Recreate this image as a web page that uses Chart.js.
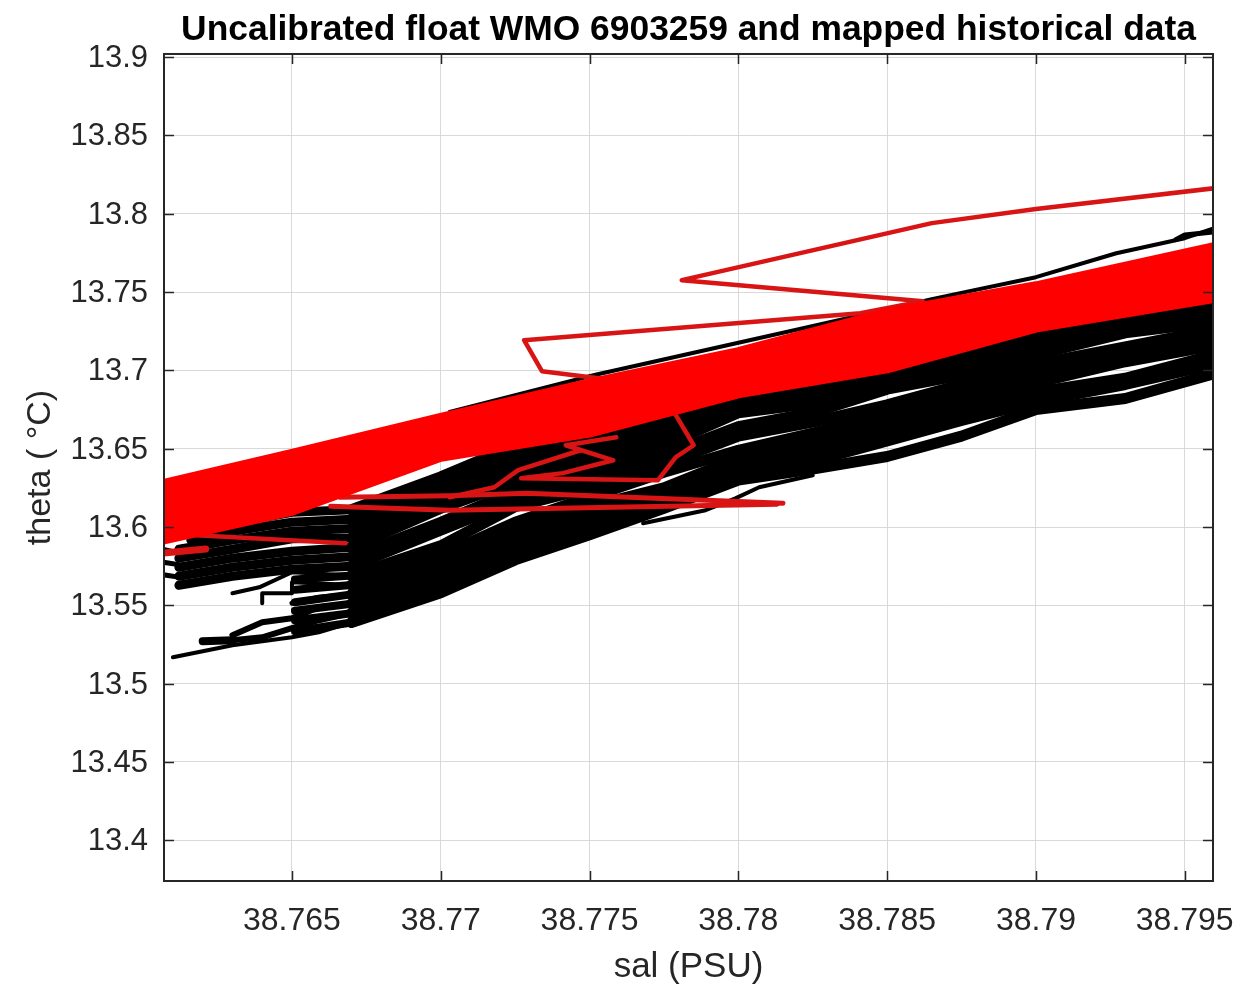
<!DOCTYPE html>
<html><head><meta charset="utf-8">
<script src="https://cdn.jsdelivr.net/npm/chart.js@4"></script>
<style>html,body{margin:0;padding:0;background:#fff}canvas{display:block}</style>
</head><body><canvas id="c" width="1239" height="985"></canvas>
<script>
const xTicks=[38.765,38.77,38.775,38.78,38.785,38.79,38.795];
const xTickLabels=['38.765','38.77','38.775','38.78','38.785','38.79','38.795'];
const yTicks=[13.4,13.45,13.5,13.55,13.6,13.65,13.7,13.75,13.8,13.85,13.9];
const yTickLabels=['13.4','13.45','13.5','13.55','13.6','13.65','13.7','13.75','13.8','13.85','13.9'];

// red: float profiles forming the dense band
const salRed=[38.7605,38.765,38.77,38.775,38.78,38.785,38.79,38.796];
const red1=[13.627,13.647,13.670,13.692,13.712,13.737,13.754,13.779];
const red2=[13.622,13.642,13.666,13.688,13.709,13.732,13.751,13.775];
const red3=[13.618,13.638,13.662,13.684,13.705,13.728,13.747,13.771];
const red4=[13.613,13.633,13.658,13.680,13.702,13.723,13.744,13.767];
const red5=[13.609,13.629,13.654,13.676,13.698,13.719,13.741,13.763];
const red6=[13.604,13.624,13.651,13.672,13.695,13.714,13.737,13.758];
const red7=[13.600,13.619,13.648,13.668,13.692,13.710,13.734,13.754];
const red8=[13.595,13.615,13.646,13.664,13.688,13.705,13.730,13.750];
const red9=[13.591,13.610,13.6445,13.660,13.685,13.701,13.727,13.746];

// red: outlying profiles
const oaSal=[38.796,38.79,38.7865,38.7781,38.7862,38.7841,38.7728,38.7734,38.7753,38.7767];
const oaTheta=[13.8163,13.803,13.794,13.7576,13.7442,13.7365,13.7193,13.6995,13.695,13.6905];
const obSal=[38.7778,38.7785,38.7779,38.7773,38.7727,38.7741,38.7758,38.7742,38.7759];
const obTheta=[13.6746,13.6522,13.6446,13.6299,13.6312,13.6344,13.6426,13.6522,13.6573];
const ocSal=[38.7747,38.7726,38.7718,38.7703];
const ocTheta=[13.649,13.6363,13.6254,13.619];
const odSal=[38.7815,38.7729,38.7703,38.7666];
const odTheta=[13.6152,13.6216,13.620,13.619];
const oeSal=[38.7813,38.7703,38.7663];
const oeTheta=[13.6146,13.6107,13.6133];
const ofSal=[38.7668,38.7618,38.7605];
const ofTheta=[13.5896,13.5947,13.596];
const ogSal=[38.7605,38.7621];
const ogTheta=[13.583,13.586];

// black: historical data, main body
const salMain=[38.767,38.77,38.7725,38.775,38.7775,38.78,38.7825,38.785,38.7875,38.79,38.793,38.796];
const blk1=[13.539,13.558,13.579,13.595,13.612,13.630,13.637,13.645,13.658,13.675,13.682,13.698];
const blk2=[13.545,13.564,13.585,13.601,13.616,13.634,13.642,13.655,13.668,13.680,13.691,13.704];
const blk3=[13.551,13.570,13.591,13.607,13.621,13.639,13.648,13.660,13.673,13.686,13.695,13.710];
const blk4=[13.557,13.576,13.597,13.613,13.625,13.644,13.654,13.666,13.679,13.692,13.7055,13.716];
const blk5=[13.563,13.582,13.603,13.619,13.635,13.649,13.660,13.672,13.685,13.698,13.710,13.721];
const blk6=[13.569,13.588,13.613,13.625,13.640,13.658,13.667,13.678,13.691,13.704,13.715,13.726];
const blk7=[13.575,13.598,13.617,13.631,13.646,13.664,13.673,13.688,13.697,13.710,13.724,13.731];
const blk8=[13.581,13.603,13.623,13.637,13.652,13.673,13.679,13.693,13.703,13.716,13.729,13.737];
const blk9=[13.587,13.612,13.629,13.643,13.658,13.678,13.685,13.699,13.709,13.722,13.734,13.743];
const blk10=[13.593,13.617,13.635,13.649,13.664,13.683,13.691,13.705,13.719,13.728,13.739,13.749];
const blk11=[13.599,13.622,13.641,13.655,13.670,13.688,13.697,13.711,13.724,13.734,13.745,13.755];
const blk12=[13.605,13.627,13.646,13.661,13.676,13.693,13.703,13.717,13.729,13.740,13.751,13.761];
const blk13=[13.611,13.632,13.652,13.667,13.682,13.698,13.709,13.723,13.735,13.746,13.757,13.767];

// black: left-hand continuation of the upper rows
const salLeftA=[38.7616,38.763,38.765,38.767];
const salLeftB=[38.7612,38.763,38.765,38.767];
const left13=[13.596,13.6024,13.6094,13.611];
const left12=[13.5916,13.5973,13.6031,13.605];
const left11=[13.5858,13.5916,13.5973,13.599];
const left10=[13.5801,13.5858,13.5925,13.593];
const left9=[13.5743,13.5801,13.5845,13.587];
const left8=[13.5686,13.5743,13.5788,13.581];
const left7=[13.5628,13.5686,13.573,13.575];

// black: short thick rows between the staircases and the main body
const salShort=[38.7651,38.767];
const short1=[13.5335,13.539];
const short2=[13.5405,13.545];
const short3=[13.5465,13.551];
const short4=[13.5520,13.557];
const short5=[13.5600,13.563];
const short6=[13.5665,13.569];

// black: lower-left staircase profiles
const s6Sal=[38.763,38.7639,38.765,38.767];      const s6Theta=[13.5577,13.5615,13.5711,13.569];
const s5Sal=[38.764,38.764,38.765,38.765,38.767]; const s5Theta=[13.5513,13.5577,13.5577,13.5647,13.563];
const s4Sal=[38.765,38.7659,38.767];             const s4Theta=[13.5513,13.5552,13.557];
const s3Sal=[38.763,38.764,38.765,38.7659,38.767]; const s3Theta=[13.5309,13.5392,13.5417,13.5488,13.551];
const s2Sal=[38.763,38.764,38.765,38.7659,38.767]; const s2Theta=[13.5277,13.5296,13.5354,13.5405,13.545];
const s1Sal=[38.761,38.763,38.765,38.7659,38.767]; const s1Theta=[13.5168,13.5245,13.5296,13.5328,13.539];
const s0Sal=[38.762,38.763];                     const s0Theta=[13.5271,13.5277];
const e1Sal=[38.7605,38.7612]; const e1Theta=[13.5865,13.5835];
const e2Sal=[38.7605,38.7612]; const e2Theta=[13.578,13.576];
const e3Sal=[38.7605,38.7612]; const e3Theta=[13.570,13.568];

// black: thin lines at the edges of the band
const l1Sal=[38.7768,38.7789,38.7799,38.7807,38.7825];
const l1Theta=[13.6024,13.6107,13.6183,13.6254,13.633];
const u1Sal=[38.7703,38.7752,38.7821,38.7865,38.79,38.7927,38.795,38.796];
const u1Theta=[13.6735,13.6972,13.7266,13.7455,13.7595,13.7748,13.7844,13.7908];
const u2Sal=[38.7947,38.795,38.796];
const u2Theta=[13.7835,13.7865,13.7885];

const pts=(xs,ys)=>xs.map((x,i)=>({x,y:ys[i]}));
const ds=(xs,ys,color,w)=>({data:pts(xs,ys),borderColor:color,backgroundColor:color,borderWidth:w,
  showLine:true,pointRadius:0,pointHoverRadius:0,tension:0,fill:false,borderJoinStyle:'round',borderCapStyle:'round'});

const RED='#ff0000', RED2='#d91414', BLK='#000000';
const datasets=[
  // first in the list is painted on top
  ...[red1,red2,red3,red4,red5,red6,red7,red8,red9].map(r=>ds(salRed,r,RED,9)),
  ds(oaSal,oaTheta,RED2,4.5),ds(obSal,obTheta,RED2,4.5),ds(ocSal,ocTheta,RED2,4.5),
  ds(odSal,odTheta,RED2,5),ds(oeSal,oeTheta,RED2,5),ds(ofSal,ofTheta,RED2,4.5),ds(ogSal,ogTheta,RED2,7),
  ds(u1Sal,u1Theta,BLK,4),ds(u2Sal,u2Theta,BLK,5),ds(l1Sal,l1Theta,BLK,4),
  ...[blk1,blk2,blk3,blk4,blk5,blk6,blk7,blk8,blk9,blk10,blk11,blk12,blk13].map(r=>ds(salMain,r,BLK,11)),
  ...[short1,short2,short3,short4,short5,short6].map(r=>ds(salShort,r,BLK,8)),
  ds(salLeftA,left13,BLK,9),ds(salLeftA,left12,BLK,9),
  ...[left11,left10,left9,left8,left7].map(r=>ds(salLeftB,r,BLK,9)),
  ds(s6Sal,s6Theta,BLK,4),ds(s5Sal,s5Theta,BLK,4),ds(s4Sal,s4Theta,BLK,5),
  ds(s3Sal,s3Theta,BLK,6),ds(s2Sal,s2Theta,BLK,6),ds(s1Sal,s1Theta,BLK,4),ds(s0Sal,s0Theta,BLK,8),
  ds(e1Sal,e1Theta,BLK,5),ds(e2Sal,e2Theta,BLK,5),ds(e3Sal,e3Theta,BLK,5)
];

const inwardTicks={id:'inwardTicks',afterDatasetsDraw(ch){
  const g=ch.ctx,a=ch.chartArea,L=10;
  g.save();g.strokeStyle='#262626';g.lineWidth=1.5;g.beginPath();
  xTicks.forEach(v=>{const p=Math.round(ch.scales.x.getPixelForValue(v))+.5;
    g.moveTo(p,a.bottom);g.lineTo(p,a.bottom-L);g.moveTo(p,a.top);g.lineTo(p,a.top+L);});
  yTicks.forEach(v=>{const p=Math.round(ch.scales.y.getPixelForValue(v))+.5;
    g.moveTo(a.left,p);g.lineTo(a.left+L,p);g.moveTo(a.right,p);g.lineTo(a.right-L,p);});
  g.stroke();g.lineWidth=2;g.strokeRect(a.left,a.top,a.right-a.left,a.bottom-a.top);g.restore();
}};
const FONT='"Liberation Sans"';
new Chart(document.getElementById('c'),{
  type:'scatter',
  data:{datasets},
  plugins:[inwardTicks],
  options:{
    responsive:false,animation:false,events:[],
    layout:{padding:{left:0,right:26,top:0,bottom:0}},
    plugins:{legend:{display:false},tooltip:{enabled:false},
      title:{display:true,fullSize:false,text:'Uncalibrated float WMO 6903259 and mapped historical data',
        color:'#000',font:{family:FONT,size:35.4,weight:'bold',lineHeight:1.2},padding:{top:8.5,bottom:3}}},
    scales:{
      x:{type:'linear',min:38.7607,max:38.79595,
        afterBuildTicks(s){s.ticks=xTicks.map(v=>({value:v}));},
        afterFit(s){s.height=104;s.paddingLeft=0;s.paddingRight=0;},
        grid:{color:'#d9d9d9',lineWidth:1,drawTicks:false},border:{display:false},
        ticks:{autoSkip:false,maxRotation:0,padding:21,color:'#262626',font:{family:FONT,size:32},
          callback:(v)=>xTickLabels[xTicks.findIndex(t=>Math.abs(t-v)<1e-6)]},
        title:{display:true,text:'sal (PSU)',color:'#262626',font:{family:FONT,size:35,lineHeight:1},padding:{top:11,bottom:0}}},
      y:{type:'linear',min:13.374,max:13.902,
        afterBuildTicks(s){s.ticks=yTicks.map(v=>({value:v}));},
        afterFit(s){s.width=164;s.paddingTop=0;s.paddingBottom=0;},
        grid:{color:'#d9d9d9',lineWidth:1,drawTicks:false},border:{display:false},
        ticks:{autoSkip:false,padding:16,labelOffset:1.5,color:'#262626',font:{family:FONT,size:31},
          callback:(v)=>yTickLabels[yTicks.findIndex(t=>Math.abs(t-v)<1e-6)]},
        title:{display:true,text:'theta ( °C)',color:'#262626',font:{family:FONT,size:34},padding:{top:20,bottom:0}}}
    }
  }
});
</script></body></html>
